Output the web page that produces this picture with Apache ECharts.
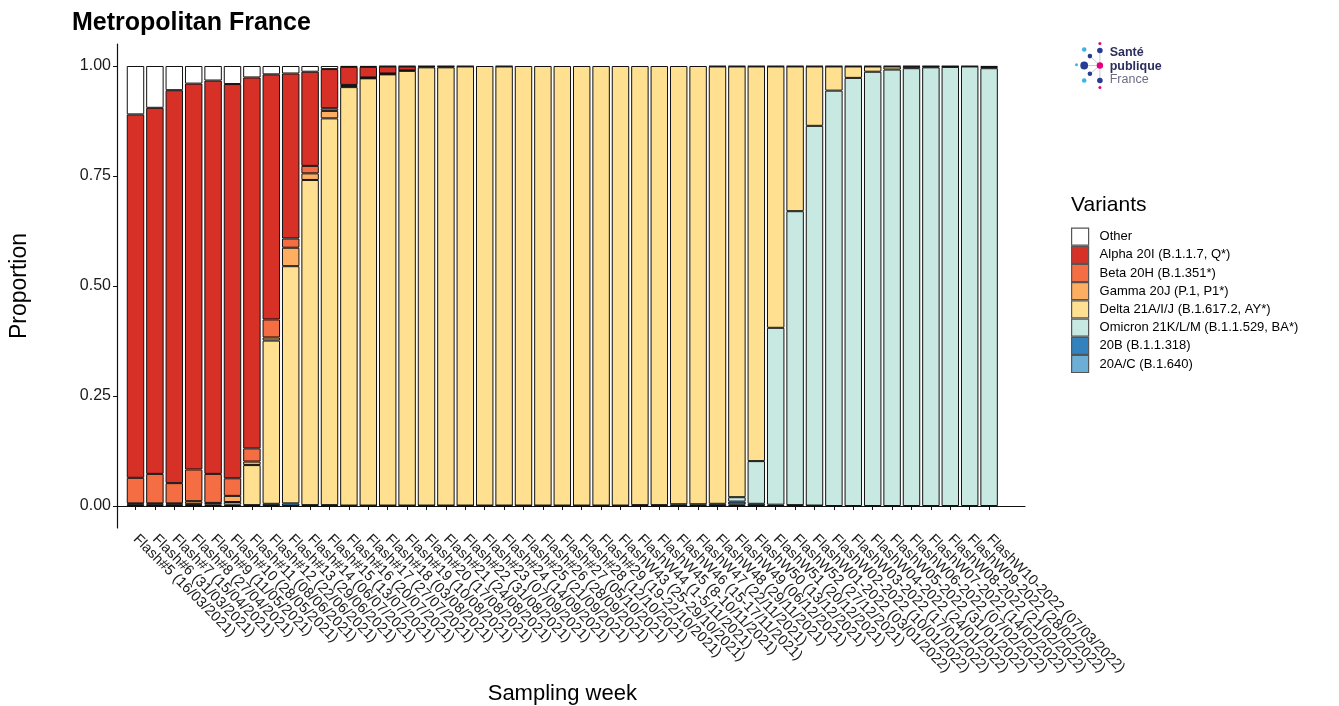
<!DOCTYPE html>
<html>
<head>
<meta charset="utf-8">
<script src="https://cdn.jsdelivr.net/npm/echarts@6/dist/echarts.min.js"></script>
<style>
html,body{margin:0;padding:0;background:#fff;}
#chart{width:1339px;height:706px;}
</style>
</head>
<body>
<div id="chart"></div>
<script>
const categories = [
  'Flash#5 (16/03/2021)','Flash#6 (31/03/2021)','Flash#7 (15/04/2021)','Flash#8 (27/04/2021)',
  'Flash#9 (11/05/2021)','Flash#10 (28/05/2021)','Flash#11 (08/06/2021)','Flash#12 (22/06/2021)',
  'Flash#13 (29/06/2021)','Flash#14 (06/07/2021)','Flash#15 (13/07/2021)','Flash#16 (20/07/2021)',
  'Flash#17 (27/07/2021)','Flash#18 (03/08/2021)','Flash#19 (10/08/2021)','Flash#20 (17/08/2021)',
  'Flash#21 (24/08/2021)','Flash#22 (31/08/2021)','Flash#23 (07/09/2021)','Flash#24 (14/09/2021)',
  'Flash#25 (21/09/2021)','Flash#26 (28/09/2021)','Flash#27 (05/10/2021)','Flash#28 (12/10/2021)',
  'Flash#29 (19-22/10/2021)','FlashW43 (25-29/10/2021)','FlashW44 (1-5/11/2021)','FlashW45 (8-10/11/2021)',
  'FlashW46 (15-17/11/2021)','FlashW47 (22/11/2021)','FlashW48 (29/11/2021)','FlashW49 (06/12/2021)',
  'FlashW50 (13/12/2021)','FlashW51 (20/12/2021)','FlashW52 (27/12/2021)','FlashW01-2022 (03/01/2022)',
  'FlashW02-2022 (10/01/2022)','FlashW03-2022 (17/01/2022)','FlashW04-2022 (24/01/2022)','FlashW05-2022 (31/01/2022)',
  'FlashW06-2022 (07/02/2022)','FlashW07-2022 (14/02/2022)','FlashW08-2022 (21/02/2022)','FlashW09-2022 (28/02/2022)',
  'FlashW10-2022 (07/03/2022)'
];

const other   = [0.110,0.095,0.055,0.040,0.033,0.041,0.026,0.019,0.017,0.013,0.007,0.002,0.002,0.001,0.001,0.001,0.001,0,0,0.001,0,0,0,0,0,0,0,0,0,0,0.001,0.001,0.001,0.001,0.001,0.001,0.001,0.001,0.001,0.001,0.001,0.001,0.001,0,0.002];
const alpha   = [0.826,0.832,0.893,0.877,0.894,0.896,0.843,0.557,0.375,0.214,0.089,0.041,0.024,0.016,0.009,0.002,0.002,0.001,0,0,0,0,0,0,0,0,0,0,0,0,0,0,0,0,0,0,0,0,0,0,0,0,0,0,0];
const beta    = [0.058,0.067,0.046,0.072,0.066,0.040,0.030,0.041,0.021,0.017,0.006,0.002,0.001,0.001,0.001,0,0,0,0,0,0,0,0,0,0,0,0,0,0,0,0,0,0,0,0,0,0,0,0,0,0,0,0,0,0];
const gamma   = [0.002,0.002,0.002,0.006,0.004,0.014,0.008,0.007,0.042,0.015,0.017,0.003,0.001,0.001,0,0,0,0,0,0,0,0,0,0,0,0,0,0,0,0,0,0,0,0,0,0,0,0,0,0,0,0,0,0,0];
const delta   = [0,0,0,0.002,0,0.006,0.091,0.371,0.539,0.739,0.879,0.951,0.971,0.980,0.988,0.996,0.996,0.998,0.999,0.998,0.999,0.999,0.999,0.999,0.999,0.999,0.998,0.998,0.996,0.996,0.994,0.979,0.897,0.594,0.329,0.135,0.055,0.026,0.012,0.007,0.004,0.002,0.001,0.001,0.003];
const omicron = [0,0,0,0,0,0,0,0,0,0,0,0,0,0,0,0,0,0,0,0,0,0,0,0,0,0,0,0,0,0,0,0.010,0.097,0.402,0.668,0.863,0.944,0.973,0.987,0.992,0.995,0.997,0.998,0.999,0.995];
const b20B    = [0.004,0.004,0.004,0.003,0.003,0.003,0.002,0.005,0.006,0.002,0.002,0.001,0.001,0.001,0.001,0.001,0.001,0.001,0.001,0.001,0.001,0.001,0.001,0.001,0.001,0.001,0.002,0.002,0.004,0.004,0.005,0.007,0.005,0.003,0.002,0.001,0,0,0,0,0,0,0,0,0];
const b20AC   = [0,0,0,0,0,0,0,0,0,0,0,0,0,0,0,0,0,0,0,0,0,0,0,0,0,0,0,0,0,0,0,0.003,0,0,0,0,0,0,0,0,0,0,0,0,0];

const variantNames = ['Other','Alpha 20I (B.1.1.7, Q*)','Beta 20H (B.1.351*)','Gamma 20J (P.1, P1*)',
  'Delta 21A/I/J (B.1.617.2, AY*)','Omicron 21K/L/M (B.1.1.529, BA*)','20B (B.1.1.318)','20A/C (B.1.640)'];
const variantColors = ['#FFFFFF','#D73027','#F46D43','#FDAE61','#FEE090','#C7E9E2','#3182BD','#6BAED6'];
const variantValues = [other, alpha, beta, gamma, delta, omicron, b20B, b20AC];

const yTickValues = [0, 0.25, 0.5, 0.75, 1];

const FONT = '"Liberation Sans", Arial, sans-serif';

// stacking bottom -> top : reverse of legend order
const series = [];
for (let k = variantNames.length - 1; k >= 0; k--) {
  series.push({
    name: variantNames[k],
    type: 'bar',
    stack: 'total',
    xAxisIndex: 0,
    yAxisIndex: 0,
    barWidth: '90%',
    data: variantValues[k].map(v => v === 0 ? null : v),
    itemStyle: { color: variantColors[k], borderColor: '#111', borderWidth: 1 },
    emphasis: { disabled: true }
  });
}

const chart = echarts.init(document.getElementById('chart'), null, { renderer: 'canvas' });

const TOP = 44, BOTTOM_Y = 528;
const option = {
  animation: false,
  backgroundColor: '#ffffff',
  textStyle: { fontFamily: FONT },
  title: [
    { text: 'Metropolitan France', left: 72, top: 11, padding: 0,
      textStyle: { fontFamily: FONT, fontSize: 25, fontWeight: 'bold', color: '#000' } },
    { text: 'Variants', left: 1071, top: 195, padding: 0,
      textStyle: { fontFamily: FONT, fontSize: 21, fontWeight: 'normal', color: '#000' } }
  ],
  legend: {
    orient: 'vertical',
    left: 1071,
    top: 227.5,
    padding: 0,
    itemWidth: 17,
    itemHeight: 17,
    itemGap: 0,
    icon: 'rect',
    data: variantNames,
    selectedMode: false,
    textStyle: { fontFamily: FONT, fontSize: 13, color: '#000', lineHeight: 15, padding: [0, 0, 0, 6] },
    itemStyle: { borderColor: '#555', borderWidth: 1.2 }
  },
  grid: [
    { left: 125.8, width: 873, top: TOP, height: BOTTOM_Y - TOP, containLabel: false, outerBoundsMode: 'none' },
    { left: 117, width: 908, top: TOP, height: BOTTOM_Y - TOP, containLabel: false, outerBoundsMode: 'none' }
  ],
  xAxis: [
    {
      type: 'category', gridIndex: 0, data: categories, boundaryGap: true,
      name: 'Sampling week', nameLocation: 'middle', nameGap: 153,
      nameTextStyle: { fontFamily: FONT, fontSize: 22, color: '#000' },
      axisLine: { show: false },
      axisTick: { show: true, alignWithLabel: true, interval: 0, length: 4, lineStyle: { color: '#111', width: 1 } },
      axisLabel: { interval: 0, rotate: -45, fontSize: 14.5, color: '#1a1a1a', fontFamily: FONT, margin: 9 },
      splitLine: { show: false }
    },
    {
      type: 'value', gridIndex: 1, min: 0, max: 1,
      axisLine: { show: true, lineStyle: { color: '#111', width: 1.2 } },
      axisTick: { show: false }, axisLabel: { show: false }, splitLine: { show: false }
    }
  ],
  yAxis: [
    {
      type: 'value', gridIndex: 0, min: -0.05, max: 1.05, show: false,
      splitLine: { show: false }
    },
    {
      type: 'value', gridIndex: 1, min: -0.05, max: 1.05,
      name: 'Proportion', nameLocation: 'middle', nameGap: 86, nameRotate: 90,
      nameTextStyle: { fontFamily: FONT, fontSize: 23, color: '#000' },
      axisLine: { show: true, lineStyle: { color: '#111', width: 1.2 } },
      axisTick: { show: true, length: 4, customValues: yTickValues, lineStyle: { color: '#111', width: 1 } },
      axisLabel: { customValues: yTickValues, fontSize: 16, color: '#1a1a1a', fontFamily: FONT, margin: 6,
        formatter: v => Number(v).toFixed(2) },
      splitLine: { show: false }
    }
  ],
  graphic: [
    {
      type: 'group', left: 1075, top: 42, silent: true,
      children: [
        { type: 'line', shape: { x1: 25.7, y1: 24.7, x2: 10, y2: 24.7 }, style: { stroke: '#b9bccb', lineWidth: 0.8 } },
        { type: 'line', shape: { x1: 25.7, y1: 24.7, x2: 25.7, y2: 9.7 }, style: { stroke: '#b9bccb', lineWidth: 0.8 } },
        { type: 'line', shape: { x1: 25.7, y1: 24.7, x2: 25.7, y2: 39.7 }, style: { stroke: '#b9bccb', lineWidth: 0.8 } },
        { type: 'line', shape: { x1: 25.7, y1: 24.7, x2: 15.7, y2: 15.3 }, style: { stroke: '#b9bccb', lineWidth: 0.8 } },
        { type: 'line', shape: { x1: 25.7, y1: 24.7, x2: 15.7, y2: 33 }, style: { stroke: '#b9bccb', lineWidth: 0.8 } },
        { type: 'circle', shape: { cx: 25.7, cy: 2.7, r: 1.5 }, style: { fill: '#e6007e' } },
        { type: 'circle', shape: { cx: 25.7, cy: 9.7, r: 2.8 }, style: { fill: '#283c96' } },
        { type: 'circle', shape: { cx: 10, cy: 8.7, r: 2.3 }, style: { fill: '#3cb4e6' } },
        { type: 'circle', shape: { cx: 15.7, cy: 15.3, r: 2.3 }, style: { fill: '#283c96' } },
        { type: 'circle', shape: { cx: 10, cy: 24.7, r: 3.9 }, style: { fill: '#283c96' } },
        { type: 'circle', shape: { cx: 2.3, cy: 24, r: 1.5 }, style: { fill: '#3cb4e6' } },
        { type: 'circle', shape: { cx: 25.7, cy: 24.7, r: 3.2 }, style: { fill: '#e6007e' } },
        { type: 'circle', shape: { cx: 15.7, cy: 33, r: 2.3 }, style: { fill: '#283c96' } },
        { type: 'circle', shape: { cx: 10, cy: 39.7, r: 2.3 }, style: { fill: '#3cb4e6' } },
        { type: 'circle', shape: { cx: 25.7, cy: 39.7, r: 2.8 }, style: { fill: '#283c96' } },
        { type: 'circle', shape: { cx: 25.7, cy: 46.7, r: 1.5 }, style: { fill: '#e6007e' } },
        { type: 'text', x: 35.5, y: 5.5, style: { text: 'Santé', font: 'bold 12.5px ' + FONT, fill: '#2b2d5c' } },
        { type: 'text', x: 35.5, y: 19, style: { text: 'publique', font: 'bold 12.5px ' + FONT, fill: '#2b2d5c' } },
        { type: 'text', x: 35.5, y: 32.5, style: { text: 'France', font: '12.5px ' + FONT, fill: '#6b6d85' } }
      ]
    }
  ],
  series: series
};
chart.setOption(option);
</script>
</body>
</html>
